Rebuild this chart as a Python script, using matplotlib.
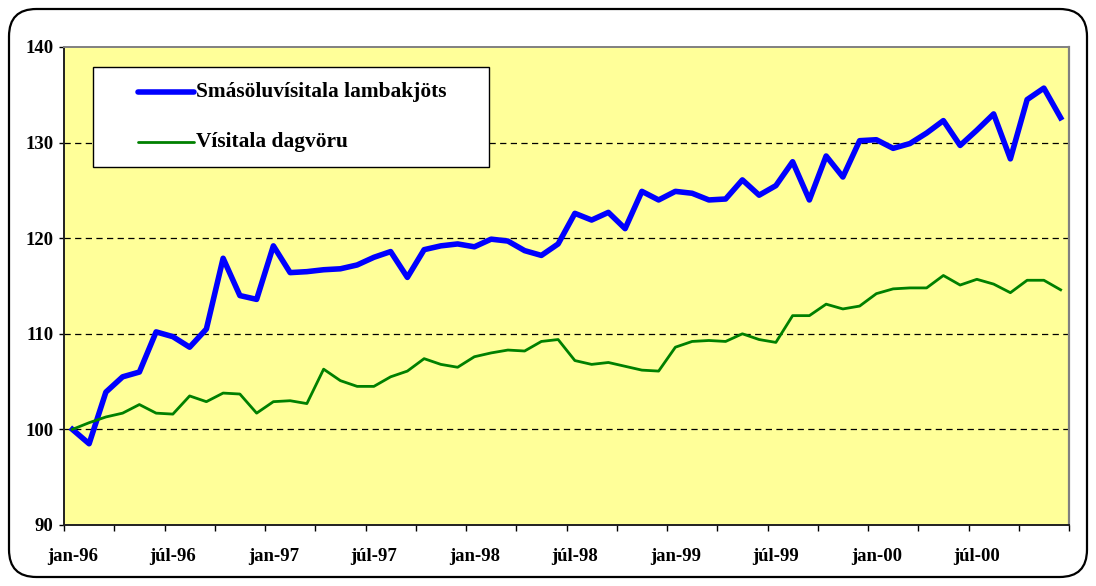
import matplotlib
matplotlib.use('Agg')
import matplotlib.pyplot as plt
from matplotlib.patches import FancyBboxPatch, Rectangle
from matplotlib.lines import Line2D
import numpy as np

plt.rcParams['font.family'] = ['Liberation Serif', 'DejaVu Serif']
plt.rcParams['font.weight'] = 'bold'

# monthly, jan-96 .. des-00
lamb = [100.0, 98.5, 103.9, 105.5, 106.0, 110.2, 109.7, 108.6, 110.5, 117.9,
        114.0, 113.6, 119.2, 116.4, 116.5, 116.7, 116.8, 117.2, 118.0, 118.6,
        115.9, 118.8, 119.2, 119.4, 119.1, 119.9, 119.7, 118.7, 118.2, 119.4,
        122.6, 121.9, 122.7, 121.0, 124.9, 124.0, 124.9, 124.7, 124.0, 124.1,
        126.1, 124.5, 125.5, 128.0, 124.0, 128.6, 126.4, 130.2, 130.3, 129.4,
        129.9, 131.0, 132.3, 129.7, 131.3, 133.0, 128.3, 134.5, 135.7, 132.6]
dagvara = [100.0, 100.7, 101.3, 101.7, 102.6, 101.7, 101.6, 103.5, 102.9, 103.8,
           103.7, 101.7, 102.9, 103.0, 102.7, 106.3, 105.1, 104.5, 104.5, 105.5,
           106.1, 107.4, 106.8, 106.5, 107.6, 108.0, 108.3, 108.2, 109.2, 109.4,
           107.2, 106.8, 107.0, 106.6, 106.2, 106.1, 108.6, 109.2, 109.3, 109.2,
           110.0, 109.4, 109.1, 111.9, 111.9, 113.1, 112.6, 112.9, 114.2, 114.7,
           114.8, 114.8, 116.1, 115.1, 115.7, 115.2, 114.3, 115.6, 115.6, 114.6]
xlabels = ['jan-96', 'júl-96', 'jan-97', 'júl-97', 'jan-98', 'júl-98',
           'jan-99', 'júl-99', 'jan-00', 'júl-00']
names = ['Smásöluvísitala lambakjöts', 'Vísitala dagvöru']

fig = plt.figure(figsize=(10.96, 5.86), dpi=100)
W, H = 1096, 586
# plot area in pixels: left 64, right 1069, top 47, bottom 525
ax = fig.add_axes([64 / W, 1 - 525 / H, 1005 / W, 478 / H])
ax.set_facecolor('#FFFF99')

x = np.arange(len(lamb))
l1, = ax.plot(x, lamb, color='#0000FF', lw=4.0, zorder=3)
l2, = ax.plot(x, dagvara, color='#008000', lw=2.0, zorder=3)

ax.set_xlim(-0.5, len(lamb) - 0.5)
ax.set_ylim(90, 140)
ax.set_yticks(range(90, 141, 10))
for v in range(100, 140, 10):
    ax.axhline(v, color='black', lw=0.9, ls=(0, (5, 3.5)), zorder=1)

ax.set_xticks(np.arange(-0.5, len(lamb), 3))
ax.set_xticklabels([])
ax.set_xticks(np.arange(0, len(lamb), 6), minor=True)
ax.set_xticklabels(xlabels, minor=True)
ax.tick_params(axis='x', which='major', length=4, width=1, direction='out')
ax.tick_params(axis='x', which='minor', length=0, pad=16.5, labelsize=13.5)
ax.tick_params(axis='y', length=3.6, width=1, direction='out', labelsize=13.5, pad=4)

for s in ['left', 'bottom']:
    ax.spines[s].set_color('#202020')
    ax.spines[s].set_linewidth(1.4)
ax.spines['top'].set_color('#808080')
ax.spines['right'].set_color('#808080')
ax.spines['top'].set_linewidth(1.4)
ax.spines['right'].set_linewidth(1.6)

# legend box
lx0, ly0, lw_, lh = (93 - 64) / 1005, (525 - 167) / 478, 396 / 1005, 100 / 478
ax.add_patch(Rectangle((lx0, ly0), lw_, lh, transform=ax.transAxes,
                       facecolor='white', edgecolor='black', lw=1.0, zorder=5))
rows = [(l1, (525 - 92) / 478), (l2, (525 - 142) / 478)]
for (ln, yy), name in zip(rows, names):
    ax.add_line(Line2D([(138 - 64) / 1005, (194 - 64) / 1005], [yy, yy],
                       transform=ax.transAxes, color=ln.get_color(),
                       lw=ln.get_linewidth(), zorder=6, solid_capstyle='round'))
    ax.text((196 - 64) / 1005, yy, name, transform=ax.transAxes, fontsize=15.4,
            fontweight='bold', va='center', ha='left', zorder=6)

# outer rounded frame
fig.add_artist(FancyBboxPatch((9 / W, 9 / H), 1078 / W, 568 / H,
                              boxstyle='round,pad=0,rounding_size=0.025',
                              transform=fig.transFigure, facecolor='none',
                              edgecolor='black', lw=1.6, mutation_aspect=W / H))

fig.savefig('out.png', dpi=100)
